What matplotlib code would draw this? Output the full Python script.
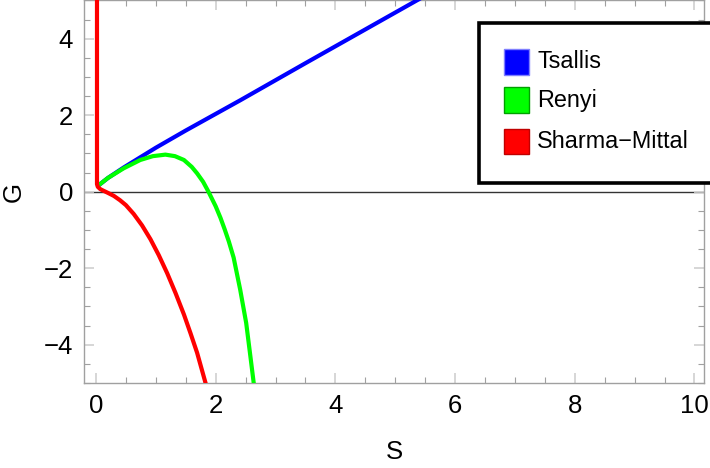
import numpy as np
import matplotlib
matplotlib.use("Agg")
from matplotlib import pyplot as plt
from matplotlib.patches import Rectangle
from matplotlib.ticker import MultipleLocator

plt.rcParams['font.family'] = ['Liberation Sans', 'DejaVu Sans']

# Values
tsallis_s = [0.045, 0.2, 0.46, 0.74, 1.0, 1.5, 2.41, 3.5, 5.45]
tsallis_g = [0.17, 0.36, 0.63, 0.9, 1.15, 1.6, 2.39, 3.36, 5.08]

renyi_s = [0.045, 0.2, 0.46, 0.74, 0.95, 1.16, 1.32, 1.47, 1.6, 1.69, 1.79,
           1.88, 2.0, 2.08, 2.15, 2.22, 2.30, 2.41, 2.51, 2.58, 2.64]
renyi_g = [0.17, 0.36, 0.61, 0.83, 0.93, 0.97, 0.93, 0.83, 0.65, 0.48, 0.26,
           0.0, -0.38, -0.68, -0.98, -1.3, -1.72, -2.56, -3.43, -4.30, -5.05]

sm_s = [0.017, 0.017, 0.03, 0.07, 0.12, 0.2, 0.3, 0.4, 0.5, 0.63, 0.77, 0.91,
        1.05, 1.19, 1.33, 1.47, 1.58, 1.69, 1.84]
sm_g = [5.05, 0.2, 0.13, 0.07, 0.03, -0.03, -0.11, -0.22, -0.35, -0.58, -0.88,
        -1.24, -1.66, -2.13, -2.65, -3.21, -3.7, -4.21, -5.05]

labels = ['Tsallis', 'Renyi', 'Sharma\u2212Mittal']
colors = ['#0000ff', '#00ff00', '#ff0000']
edge_colors = ['#7f7fff', '#00a000', '#c00000']

fig = plt.figure(figsize=(7.1, 4.68), dpi=100)
ax = fig.add_axes([84 / 710, 1 - 383 / 468, 620 / 710, 383 / 468 - 0.001])

ax.axhline(0, color='#333333', lw=1.0, zorder=1)
ax.plot(tsallis_s, tsallis_g, color=colors[0], lw=3, zorder=3)
ax.plot(renyi_s, renyi_g, color=colors[1], lw=3, zorder=4)
ax.plot(sm_s, sm_g, color=colors[2], lw=3, zorder=5, solid_joinstyle='round')

ax.set_xlim(-0.2, 10.16)
ax.set_ylim(-5, 5)

ax.xaxis.set_major_locator(MultipleLocator(2))
ax.xaxis.set_minor_locator(MultipleLocator(0.5))
ax.yaxis.set_major_locator(MultipleLocator(2))
ax.yaxis.set_minor_locator(MultipleLocator(0.5))

for sp in ax.spines.values():
    sp.set_color('#a0a0a0')
    sp.set_linewidth(1.0)

ax.tick_params(which='both', direction='in', top=True, right=True)
ax.tick_params(which='major', length=7, width=1.2, color='#d0d0d0',
               labelsize=18.5, pad=8)
ax.tick_params(which='minor', length=4, width=0.8, color='#a0a0a0')

ax.set_xlabel('S', fontsize=18.5, va='center')
ax.set_ylabel('G', fontsize=18.5, va='center')
ax.xaxis.set_label_coords(0.5, (383 - 452) / 383)
ax.yaxis.set_label_coords((14 - 84) / 620, 0.5)


# legend box, partly outside the figure like the reference
def fig_xy(x, y):
    return x / 710, 1 - y / 468


box = Rectangle(fig_xy(479, 183), 260 / 710, 160 / 468, transform=fig.transFigure,
                facecolor='white', edgecolor='black', lw=2.6, zorder=10)
fig.add_artist(box)
row_y = [62, 100, 141]
for lab, c, ec, yy in zip(labels, colors, edge_colors, row_y):
    sw = Rectangle(fig_xy(504, yy + 12.5), 25 / 710, 25 / 468, transform=fig.transFigure,
                   facecolor=c, edgecolor=ec, lw=1.0, zorder=11)
    fig.add_artist(sw)
    fig.text(537 / 710, 1 - yy / 468, lab, fontsize=16.8, va='center', ha='left',
             zorder=12)

fig.savefig('out.png', dpi=100)
